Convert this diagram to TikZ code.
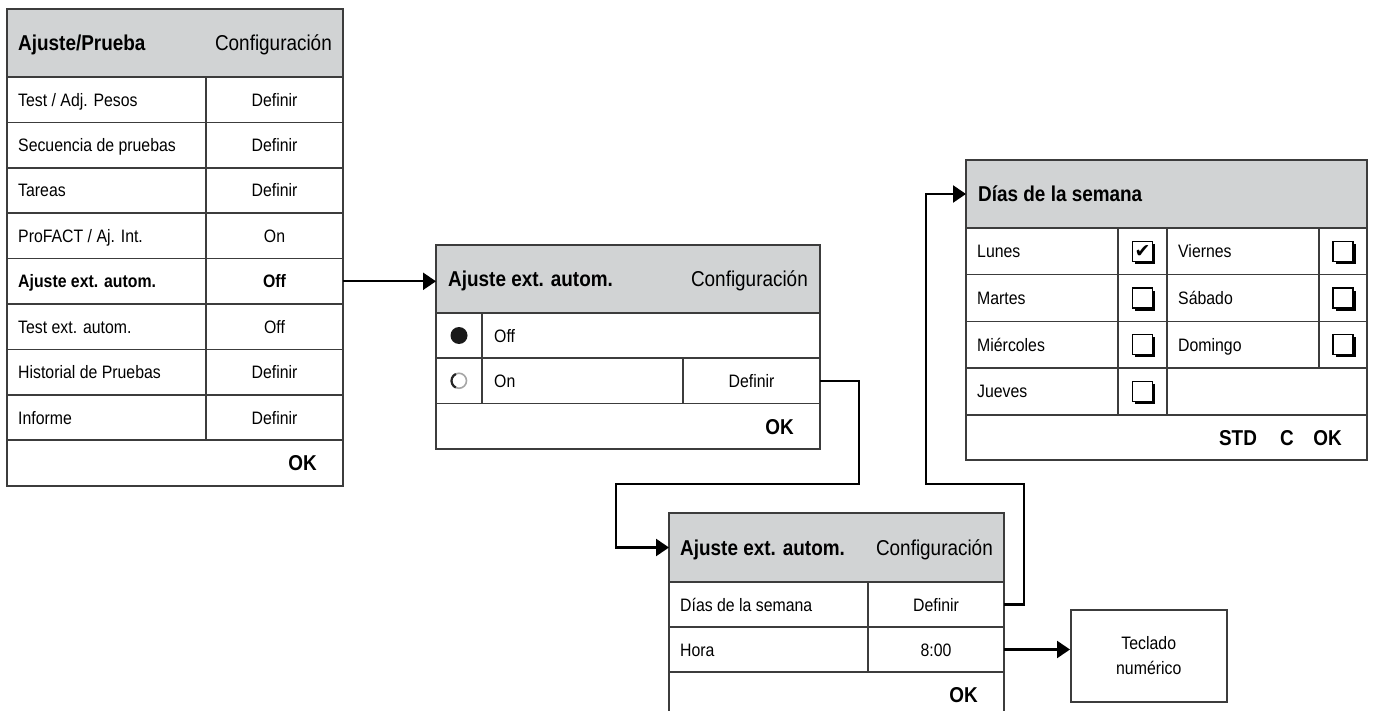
\documentclass[tikz,border=0pt]{standalone}
\usepackage{fontspec}
\setmainfont[FakeStretch=0.88]{Liberation Sans}
\newfontfamily\checkfont{DejaVu Sans}
\usetikzlibrary{arrows.meta,positioning,shadows}
\definecolor{headgray}{HTML}{D1D3D4}
\definecolor{rulegray}{HTML}{3C3C3C}
\tikzset{
  cell/.style={draw=rulegray, line width=1.5pt, inner sep=0pt, outer sep=0pt, anchor=north west},
  head/.style={cell, fill=headgray},
  rowtxt/.style={inner sep=0pt, font=\fontsize{18}{21}\selectfont, text height=13pt, text depth=0pt},
  headtxt/.style={inner sep=0pt, font=\fontsize{21.5}{24}\selectfont, text height=15.5pt, text depth=0pt},
  boldtxt/.style={headtxt, font=\fontsize{21.5}{24}\selectfont\bfseries},
  chkbox/.style={draw=black, line width=1.2pt, fill=white, minimum size=20pt, inner sep=0pt,
    drop shadow={shadow xshift=2.5pt, shadow yshift=-2.5pt, fill=black, opacity=1}},
  conn/.style={draw=black, line width=2.3pt, -{Triangle[length=13pt,width=17pt]}}
}
\begin{document}
\begin{tikzpicture}[x=1pt,y=-1pt]
\fill[white] (0,0) rectangle (1373,711);
\useasboundingbox (0,0) rectangle (1373,711);
\clip (0,0) rectangle (1373,711);

% Ajuste/Prueba
\node[head, minimum width=336, minimum height=68] (lhead) at (7,9) {};
\node[boldtxt, anchor=west] (lheadA) at ([xshift=11]lhead.west) {Ajuste/Prueba};
\node[headtxt, anchor=east] (lheadB) at ([xshift=-11]lhead.east) {Configuración};
\foreach \lab/\val [count=\i] in {{Test / Adj. Pesos}/Definir, {Secuencia de pruebas}/Definir,
    Tareas/Definir, {ProFACT / Aj. Int.}/On, {\bfseries Ajuste ext. autom.}/{\bfseries Off},
    {Test ext. autom.}/Off, {Historial de Pruebas}/Definir, Informe/Definir}{
  \node[cell, minimum width=199, minimum height=45.4] (la\i) at (7,{77+(\i-1)*45.4}) {};
  \node[rowtxt, anchor=west] (lt\i) at ([xshift=11]la\i.west) {\lab};
  \node[cell, rowtxt, minimum width=137, minimum height=45.4] (lb\i) at (la\i.north east) {\val};
}
\node[cell, minimum width=336, minimum height=46] (lok) at (la8.south west) {};
\node[boldtxt, anchor=east] (lokA) at ([xshift=-26]lok.east) {OK};

% Ajuste ext. autom.
\node[head, minimum width=384, minimum height=68] (mhead) at (436,245) {};
\node[boldtxt, anchor=west] (mheadA) at ([xshift=12]mhead.west) {Ajuste ext. autom.};
\node[headtxt, anchor=east] (mheadB) at ([xshift=-12]mhead.east) {Configuración};
\node[cell, minimum width=46, minimum height=45] (mrad1) at (436,313) {};
\node[cell, minimum width=338, minimum height=45] (moff) at (mrad1.north east) {};
\node[rowtxt, anchor=west] (mofft) at ([xshift=12]moff.west) {Off};
\node[cell, minimum width=46, minimum height=45.5] (mrad2) at (mrad1.south west) {};
\node[cell, minimum width=201, minimum height=45.5] (mon) at (mrad2.north east) {};
\node[rowtxt, anchor=west] (mont) at ([xshift=12]mon.west) {On};
\node[cell, rowtxt, minimum width=137, minimum height=45.5] (mdef) at (mon.north east) {Definir};
\node[cell, minimum width=384, minimum height=45.5] (mok) at (mrad2.south west) {};
\node[boldtxt, anchor=east] (mokA) at ([xshift=-26]mok.east) {OK};
\node[circle, fill=black!90, minimum size=17, inner sep=0pt] (radoff) at (mrad1.center) {};
\node[circle, draw=black!35, line width=1.6pt, minimum size=15, inner sep=0pt, outer sep=0pt] (radon) at (mrad2.center) {};
\draw[black!85, line width=2.2pt] (radon.115) arc[start angle=115, end angle=245, radius=7.5pt];

% Ajuste ext. autom. (Definir)
\node[head, minimum width=335, minimum height=69] (bhead) at (669,513) {};
\node[boldtxt, anchor=west] (bheadA) at ([xshift=11]bhead.west) {Ajuste ext. autom.};
\node[headtxt, anchor=east] (bheadB) at ([xshift=-11]bhead.east) {Configuración};
\node[cell, minimum width=199, minimum height=45] (bl1) at (669,582) {};
\node[rowtxt, anchor=west] (bl1t) at ([xshift=11]bl1.west) {Días de la semana};
\node[cell, rowtxt, minimum width=136, minimum height=45] (bdef) at (bl1.north east) {Definir};
\node[cell, minimum width=199, minimum height=45] (bl2) at (bl1.south west) {};
\node[rowtxt, anchor=west] (bl2t) at ([xshift=11]bl2.west) {Hora};
\node[cell, rowtxt, minimum width=136, minimum height=45] (btime) at (bl2.north east) {8:00};
\node[cell, minimum width=335, minimum height=46] (bok) at (bl2.south west) {};
\node[boldtxt, anchor=east] (bokA) at ([xshift=-26]bok.east) {OK};

% Dias de la semana
\node[head, minimum width=401, minimum height=68] (dhead) at (966,160) {};
\node[boldtxt, anchor=west] (dheadA) at ([xshift=12]dhead.west) {Días de la semana};
\foreach \da/\db [count=\i] in {Lunes/Viernes, Martes/Sábado, Miércoles/Domingo}{
  \node[cell, minimum width=152, minimum height=46.7] (dA\i) at (966,{228+(\i-1)*46.7}) {};
  \node[rowtxt, anchor=west] (dAt\i) at ([xshift=11]dA\i.west) {\da};
  \node[cell, minimum width=49, minimum height=46.7] (dAbox\i) at (dA\i.north east) {};
  \node[cell, minimum width=152, minimum height=46.7] (dB\i) at (dAbox\i.north east) {};
  \node[rowtxt, anchor=west] (dBt\i) at ([xshift=11]dB\i.west) {\db};
  \node[cell, minimum width=48, minimum height=46.7] (dBbox\i) at (dB\i.north east) {};
  \node[chkbox] (dBchk\i) at (dBbox\i.center) {};
}
\node[cell, minimum width=152, minimum height=46.7] (dA4) at (dA3.south west) {};
\node[rowtxt, anchor=west] (dAt4) at ([xshift=11]dA4.west) {Jueves};
\node[cell, minimum width=49, minimum height=46.7] (dAbox4) at (dA4.north east) {};
\node[cell, minimum width=200, minimum height=46.7] (dB4) at (dAbox4.north east) {};
\node[chkbox] (dAchk1) at (dAbox1.center) {\fontsize{19}{19}\checkfont ✔};
\foreach \i in {2,3,4}
  \node[chkbox] (dAchk\i) at (dAbox\i.center) {};
\node[cell, minimum width=401, minimum height=45] (dok) at (dA4.south west) {};
\node[boldtxt, anchor=east] (dokA) at ([xshift=-25]dok.east) {OK};
\node[boldtxt] (dokC) at ([xshift=-80]dok.east) {C};
\node[boldtxt] (dokS) at ([xshift=-129]dok.east) {STD};

% Teclado
\node[draw=rulegray, line width=1.5pt, minimum width=156, minimum height=92, anchor=north west,
  align=center, font=\fontsize{18}{25}\selectfont] (kbd) at (1070,609) {Teclado\\numérico};

\coordinate (cA) at (859,484);
\coordinate (cB) at (616,484);
\coordinate (cC) at (1024,484);
\coordinate (cD) at (926,484);
\draw[conn] (lb5.east) -- (lb5.east -| mhead.west);
\draw[conn] (mdef.east) -| (cA) -- (cB) |- (bhead.west);
\draw[conn] (bdef.east) -| (cC) -- (cD) |- (dhead.west);
\draw[conn] (btime.east) -- (btime.east -| kbd.west);
\end{tikzpicture}
\end{document}
